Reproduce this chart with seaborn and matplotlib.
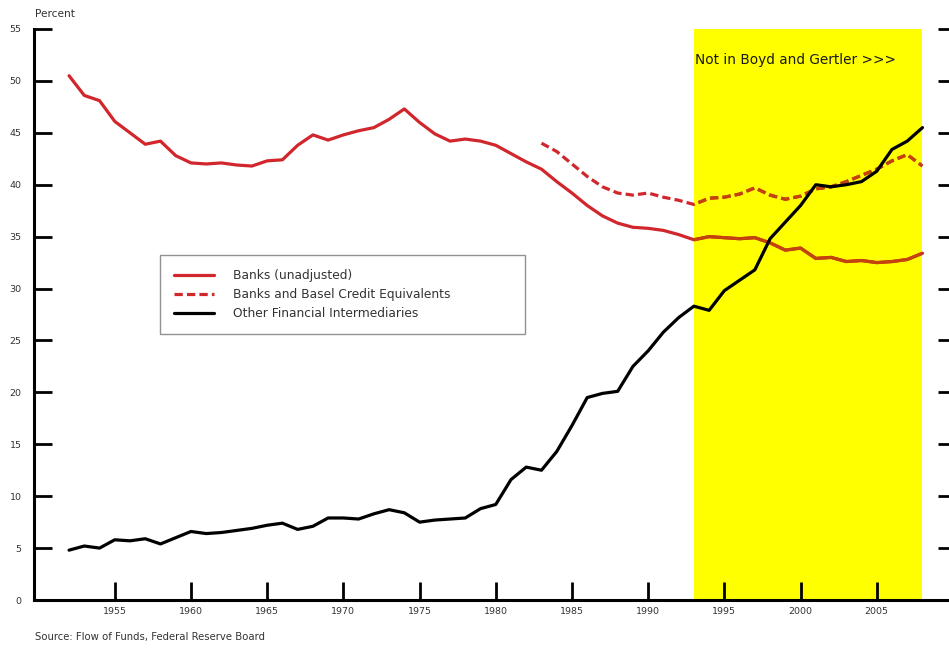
import matplotlib
matplotlib.use("Agg")
import matplotlib.pyplot as plt
import seaborn as sns
import pandas as pd
from matplotlib.patches import Rectangle

years_banks = list(range(1952, 2009))
banks = [50.5, 48.6, 48.1, 46.1, 45.0, 43.9, 44.2, 42.8, 42.1, 42.0,
         42.1, 41.9, 41.8, 42.3, 42.4, 43.8, 44.8, 44.3, 44.8, 45.2,
         45.5, 46.3, 47.3, 46.0, 44.9, 44.2, 44.4, 44.2, 43.8, 43.0,
         42.2, 41.5, 40.3, 39.2, 38.0, 37.0, 36.3, 35.9, 35.8, 35.6,
         35.2, 34.7, 35.0, 34.9, 34.8, 34.9, 34.4, 33.7, 33.9, 32.9,
         33.0, 32.6, 32.7, 32.5, 32.6, 32.8, 33.4]

years_basel = list(range(1983, 2009))
basel = [44.0, 43.2, 42.0, 40.8, 39.8, 39.2, 39.0, 39.2, 38.8, 38.5,
         38.1, 38.7, 38.8, 39.1, 39.7, 39.0, 38.6, 38.9, 39.6, 39.8,
         40.3, 40.9, 41.5, 42.3, 42.9, 41.8]

years_other = list(range(1952, 2009))
other = [4.8, 5.2, 5.0, 5.8, 5.7, 5.9, 5.4, 6.0, 6.6, 6.4,
         6.5, 6.7, 6.9, 7.2, 7.4, 6.8, 7.1, 7.9, 7.9, 7.8,
         8.3, 8.7, 8.4, 7.5, 7.7, 7.8, 7.9, 8.8, 9.2, 11.6,
         12.8, 12.5, 14.3, 16.8, 19.5, 19.9, 20.1, 22.5, 24.0, 25.8,
         27.2, 28.3, 27.9, 29.8, 30.8, 31.8, 34.8, 36.4, 38.0, 40.0,
         39.8, 40.0, 40.3, 41.3, 43.4, 44.2, 45.5]

labels = ["Banks (unadjusted)", "Banks and Basel Credit Equivalents",
          "Other Financial Intermediaries"]
x_ticks = [1955, 1960, 1965, 1970, 1975, 1980, 1985, 1990, 1995, 2000, 2005]
y_ticks = list(range(0, 56, 5))
shade_start, shade_end = 1993, 2008
annotation = "Not in Boyd and Gertler >>>"
source = "Source: Flow of Funds, Federal Reserve Board"

sns.set_style("white")
plt.rcParams['font.family'] = ['DejaVu Sans']

fig = plt.figure(figsize=(9.49, 6.5), dpi=100)
ax = fig.add_axes([34/949, 1-600/650, (956-34)/949, 571/650])

ax.axvspan(shade_start, shade_end, color="#ffff00", zorder=0, lw=0)

red = "#d0262c"
red_on_yellow = "#c2440c"
dash = (2.6, 1.3)
df_b = pd.DataFrame({"year": years_banks, "v": banks})
df_s = pd.DataFrame({"year": years_basel, "v": basel})
df_o = pd.DataFrame({"year": years_other, "v": other})

sns.lineplot(data=df_b, x="year", y="v", ax=ax, color=red, lw=2.3, label=labels[0])
sns.lineplot(data=df_s, x="year", y="v", ax=ax, color=red, lw=2.3, label=labels[1])
ax.lines[-1].set_dashes(dash)

# darker tint of the red lines where they cross the shaded band
clip = Rectangle((shade_start, 0), shade_end - shade_start, 55,
                 transform=ax.transData, visible=False)
ax.add_patch(clip)
sns.lineplot(data=df_b, x="year", y="v", ax=ax, color=red_on_yellow, lw=2.3,
             legend=False)
ax.lines[-1].set_clip_path(clip)
sns.lineplot(data=df_s, x="year", y="v", ax=ax, color=red_on_yellow, lw=2.3,
             legend=False)
ax.lines[-1].set_dashes(dash)
ax.lines[-1].set_clip_path(clip)

sns.lineplot(data=df_o, x="year", y="v", ax=ax, color="black", lw=2.3, label=labels[2])

ax.set_xlim(1949.7, 2010.2)
ax.set_ylim(0, 55)
ax.set_xticks(x_ticks)
ax.set_yticks(y_ticks)
ax.set_xlabel("")
ax.set_ylabel("")

ax.spines["top"].set_visible(False)
for s in ["left", "bottom", "right"]:
    ax.spines[s].set_linewidth(2.2)
    ax.spines[s].set_color("black")

ax.tick_params(axis="both", direction="in", length=13, width=2.0, colors="black",
               labelsize=6.8, labelcolor="#333333")
ax.tick_params(axis="y", left=True, right=True, pad=9)
ax.tick_params(axis="x", bottom=True, pad=5)

ax.text(1993.1, 52.0, annotation, fontsize=9.8, color="#1a1a1a", va="center", ha="left")

leg = ax.legend(loc="upper left",
                bbox_to_anchor=((160-34)/922, (600-337)/571, 365/922, 82/571),
                mode="expand",
                frameon=True, fancybox=False, fontsize=8.8, handlelength=3.3,
                borderpad=1.15, labelspacing=0.5, handletextpad=1.5,
                borderaxespad=0)
leg.get_frame().set_edgecolor("#777777")
leg.get_frame().set_linewidth(1.0)
for t in leg.get_texts():
    t.set_color("#333333")

fig.text(35/949, 1-14/650, "Percent", fontsize=7.6, color="#333333", va="center")
fig.text(35/949, 1-637/650, source, fontsize=7.3, color="#333333", va="center")

fig.savefig("out.png", dpi=100)
